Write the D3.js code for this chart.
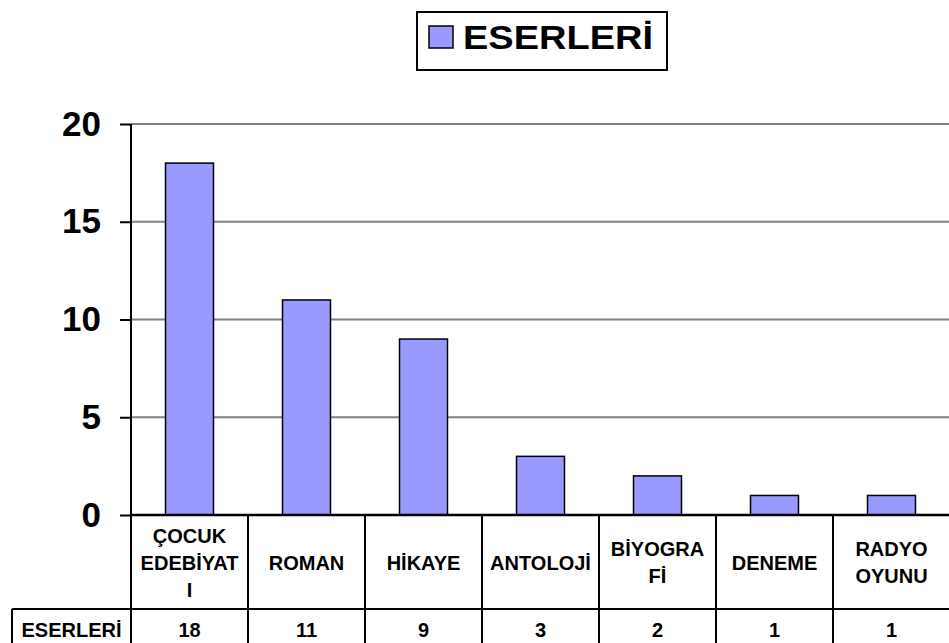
<!DOCTYPE html>
<html>
<head>
<meta charset="utf-8">
<script src="https://cdn.jsdelivr.net/npm/d3@7"></script>
<style>
body { margin: 0; background: #fff; overflow: hidden; }
text { font-family: "Liberation Sans", Arial, sans-serif; font-weight: bold; }
</style>
</head>
<body>
<div id="chart"></div>
<script>
const width = 949;
const height = 643;
const seriesName = "ESERLERİ";
const categories = ["ÇOCUK EDEBİYATI", "ROMAN", "HİKAYE", "ANTOLOJİ", "BİYOGRAFİ", "DENEME", "RADYO OYUNU"];
const labelLines = [["ÇOCUK", "EDEBİYAT", "I"], ["ROMAN"], ["HİKAYE"], ["ANTOLOJİ"], ["BİYOGRA", "Fİ"], ["DENEME"], ["RADYO", "OYUNU"]];
const values = [18, 11, 9, 3, 2, 1, 1];
const yTicks = [0, 5, 10, 15, 20];

const plotLeft = 131, plotRight = 950, plotTop = 124, plotBottom = 515;
const catRowBottom = 609, dataRowBottom = 646, tableLeft = 12;

const svg = d3.select("#chart").append("svg")
    .attr("width", width)
    .attr("height", height);

const x = d3.scaleBand().domain(categories).range([plotLeft, plotRight]).paddingInner(0).paddingOuter(0);
const y = d3.scaleLinear().domain([0, 20]).range([plotBottom, plotTop]);
const barW = x.bandwidth() * 0.41;

// gridlines
svg.append("g")
    .selectAll("line")
    .data(yTicks.filter((d) => d > 0))
    .enter().append("line")
    .attr("x1", plotLeft).attr("x2", plotRight)
    .attr("y1", (d) => y(d)).attr("y2", (d) => y(d))
    .attr("stroke", "#808080").attr("stroke-width", 2);

// y axis
const yAxis = svg.append("g")
    .attr("transform", `translate(${plotLeft},0)`)
    .call(d3.axisLeft(y).tickValues(yTicks).tickSize(11).tickPadding(19));
yAxis.select(".domain").remove();
yAxis.selectAll(".tick line").attr("stroke", "#000").attr("stroke-width", 2);
yAxis.selectAll(".tick text")
    .attr("font-size", 35)
    .attr("fill", "#000")
    .style("font-family", "'Liberation Sans', Arial, sans-serif")
    .style("font-weight", "bold");
svg.append("line")
    .attr("x1", plotLeft).attr("x2", plotLeft)
    .attr("y1", plotTop).attr("y2", dataRowBottom)
    .attr("stroke", "#000").attr("stroke-width", 2);

// bars
svg.append("g")
    .selectAll("rect")
    .data(values)
    .enter().append("rect")
    .attr("x", (d, i) => x(categories[i]) + (x.bandwidth() - barW) / 2)
    .attr("y", (d) => y(d))
    .attr("width", barW)
    .attr("height", (d) => y(0) - y(d))
    .attr("fill", "#9999FF")
    .attr("stroke", "#000")
    .attr("stroke-width", 1.5);

// data table
const table = svg.append("g").attr("stroke", "#000").attr("stroke-width", 2);
table.append("line").attr("x1", plotLeft).attr("x2", plotRight).attr("y1", plotBottom).attr("y2", plotBottom).attr("stroke-width", 2.5);
table.append("line").attr("x1", tableLeft).attr("x2", plotRight).attr("y1", catRowBottom).attr("y2", catRowBottom);
table.append("line").attr("x1", tableLeft).attr("x2", plotRight).attr("y1", dataRowBottom).attr("y2", dataRowBottom);
table.append("line").attr("x1", tableLeft).attr("x2", tableLeft).attr("y1", catRowBottom).attr("y2", dataRowBottom);
table.selectAll(".div")
    .data(categories.slice(1))
    .enter().append("line")
    .attr("x1", (d) => x(d)).attr("x2", (d) => x(d))
    .attr("y1", plotBottom).attr("y2", dataRowBottom);

const lineH = 27;
const catBase = 569.5;
svg.append("g")
    .selectAll("text")
    .data(labelLines)
    .enter().append("text")
    .attr("text-anchor", "middle")
    .attr("font-size", 20)
    .attr("x", (d, i) => x(categories[i]) + x.bandwidth() / 2)
    .attr("y", (d) => catBase - (d.length - 1) * lineH / 2)
    .each(function (d, i) {
        const t = d3.select(this);
        d.forEach((s, k) => {
            t.append("tspan")
                .attr("x", x(categories[i]) + x.bandwidth() / 2)
                .attr("dy", k === 0 ? 0 : lineH)
                .text(s);
        });
    });

const dataBase = 637;
svg.append("text")
    .attr("x", (tableLeft + plotLeft) / 2).attr("y", dataBase)
    .attr("text-anchor", "middle").attr("font-size", 20)
    .text(seriesName);
svg.append("g")
    .selectAll("text")
    .data(values)
    .enter().append("text")
    .attr("text-anchor", "middle")
    .attr("font-size", 20)
    .attr("x", (d, i) => x(categories[i]) + x.bandwidth() / 2)
    .attr("y", dataBase)
    .text((d) => d);

// legend
const legend = svg.append("g");
legend.append("rect")
    .attr("x", 417).attr("y", 12).attr("width", 250).attr("height", 58)
    .attr("fill", "#fff").attr("stroke", "#000").attr("stroke-width", 2);
legend.append("rect")
    .attr("x", 429).attr("y", 26).attr("width", 24).attr("height", 22)
    .attr("fill", "#9999FF").attr("stroke", "#000").attr("stroke-width", 1.5);
legend.append("text")
    .attr("x", 463).attr("y", 49)
    .attr("font-size", 33)
    .attr("textLength", 190)
    .attr("lengthAdjust", "spacingAndGlyphs")
    .text(seriesName);
</script>
</body>
</html>
